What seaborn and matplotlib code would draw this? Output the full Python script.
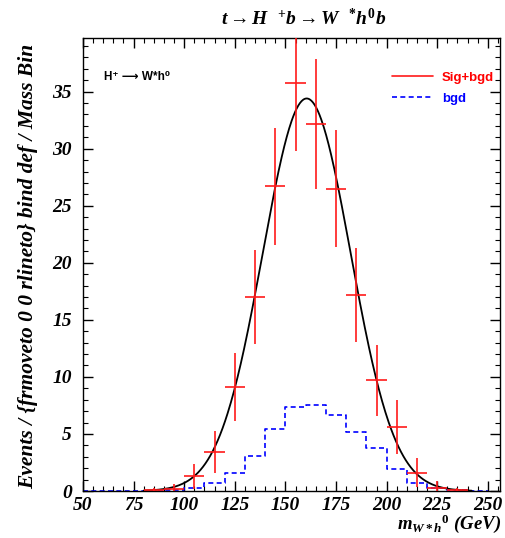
import numpy as np
import pandas as pd
import matplotlib
matplotlib.use("Agg")
import matplotlib.pyplot as plt
from matplotlib.lines import Line2D
from matplotlib.ticker import MultipleLocator
import seaborn as sns

# ---- data ----
bin_centers = [85, 95, 105, 115, 125, 135, 145, 155, 165, 175, 185, 195, 205, 215, 225, 235]
sig_vals = [0.05, 0.2, 1.3, 3.4, 9.1, 17.0, 26.7, 35.8, 32.2, 26.5, 17.2, 9.7, 5.6, 1.6, 0.3, 0.05]
sig_errs = [0.2, 0.45, 1.1, 1.85, 3.0, 4.1, 5.1, 6.0, 5.7, 5.1, 4.1, 3.1, 2.4, 1.25, 0.55, 0.2]

bgd_edges = [50, 60, 70, 80, 90, 100, 110, 120, 130, 140, 150, 160, 170, 180, 190, 200, 210, 220, 230, 240, 250]
bgd_vals = [0, 0, 0, 0, 0.05, 0.24, 0.67, 1.55, 3.1, 5.4, 7.4, 7.55, 6.67, 5.15, 3.74, 1.93, 0.67, 0.3, 0.05, 0]

# Gaussian fit parameters (amplitude, mean, sigma) and drawn range
fit_amp, fit_mean, fit_sigma = 34.4, 160.5, 21.7
fit_range = (80, 242)

x_ticks = [50, 75, 100, 125, 150, 175, 200, 225, 250]
y_ticks = [0, 5, 10, 15, 20, 25, 30, 35]

# ---- style ----
sns.set_style("ticks")
plt.rcParams["font.family"] = ["Liberation Serif", "DejaVu Serif"]
plt.rcParams["text.color"] = "black"
plt.rcParams["xtick.color"] = "black"
plt.rcParams["ytick.color"] = "black"
plt.rcParams["axes.labelcolor"] = "black"
plt.rcParams["mathtext.fontset"] = "custom"
plt.rcParams["mathtext.it"] = "Liberation Serif:italic:bold"
plt.rcParams["mathtext.rm"] = "Liberation Serif:bold"
plt.rcParams["mathtext.bf"] = "Liberation Serif:italic:bold"

fig = plt.figure(figsize=(5.06, 5.38), dpi=100)
ax = fig.add_axes([83 / 506, 1 - 491 / 538, 417 / 506, 453 / 538])

# background histogram (dashed blue step)
bgd_df = pd.DataFrame({"x": [(a + b) / 2 for a, b in zip(bgd_edges[:-1], bgd_edges[1:])],
                       "w": bgd_vals})
sns.histplot(data=bgd_df, x="x", weights="w", bins=bgd_edges, element="step",
             fill=False, color="#0000ff", linestyle=(0, (3, 2)), linewidth=1.2, ax=ax)

# fit curve
xs = np.linspace(fit_range[0], fit_range[1], 400)
fit_df = pd.DataFrame({"x": xs, "y": fit_amp * np.exp(-0.5 * ((xs - fit_mean) / fit_sigma) ** 2)})
sns.lineplot(data=fit_df, x="x", y="y", color="black", linewidth=1.3, ax=ax)

# signal+bgd points with errors
ax.errorbar(bin_centers, sig_vals, yerr=sig_errs, xerr=5, fmt="none",
            ecolor="#ff1a1a", elinewidth=1.2, capsize=0, zorder=5)

ax.set_xlim(50, 256)
ax.set_ylim(0, 39.7)
ax.set_xticks(x_ticks)
ax.set_yticks(y_ticks)
ax.set_xticklabels([str(t) for t in x_ticks])
ax.set_yticklabels([str(t) for t in y_ticks])
ax.xaxis.set_minor_locator(MultipleLocator(5))
ax.yaxis.set_minor_locator(MultipleLocator(1))
ax.tick_params(which="both", direction="in", top=True, right=True, color="black")
ax.tick_params(which="major", length=7, width=1)
ax.tick_params(which="minor", length=3.5, width=0.8)
for lab in ax.get_xticklabels() + ax.get_yticklabels():
    lab.set_fontsize(14)
    lab.set_fontweight("bold")
    lab.set_fontstyle("italic")
    lab.set_color("black")
ax.tick_params(axis="x", pad=4)
ax.tick_params(axis="y", pad=8)
for sp in ax.spines.values():
    sp.set_linewidth(1.0)
    sp.set_color("black")
ax.set_xlabel("")
ax.set_ylabel("")

# titles / labels
fig.text(0.60, 0.966, r"$t \rightarrow H\ \ ^{+}b \rightarrow W\ \ ^{*}h^{0}b$",
         ha="center", va="center", fontsize=14)
fig.text(0.055, 0.505, "Events / {frmoveto 0 0 rlineto} bind def / Mass Bin",
         rotation=90, ha="center", va="center", fontsize=15.5,
         fontweight="bold", fontstyle="italic")
fig.text(0.99, 0.006, r"$m_{W*h}{}^{0}$ (GeV)", ha="right", va="bottom",
         fontsize=13.5, fontweight="bold", fontstyle="italic")

# annotations
ax.text(0.05, 0.914, "H⁺ ⟶ W*h⁰", transform=ax.transAxes, ha="left", va="center",
        fontsize=8.5, fontweight="bold", family=["Liberation Sans", "DejaVu Sans"])

handles = [Line2D([], [], color="#ff1a1a", lw=1.2),
           Line2D([], [], color="#0000ff", lw=1.2, linestyle=(0, (3, 2)))]
leg = ax.legend(handles, ["Sig+bgd", "bgd"], loc="upper left", bbox_to_anchor=(0.725, 0.94),
                frameon=False, borderpad=0, handlelength=3.1, handletextpad=0.7,
                labelspacing=0.65, prop={"family": "Liberation Sans", "weight": "bold", "size": 9.5})
for txt, c in zip(leg.get_texts(), ["#ff0000", "#0000ff"]):
    txt.set_color(c)

fig.savefig("out.png", dpi=100)
